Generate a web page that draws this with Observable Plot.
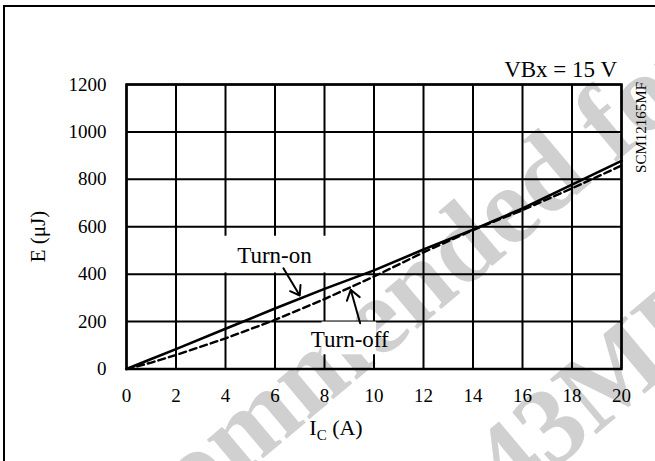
<!DOCTYPE html>
<html>
<head>
<meta charset="utf-8">
<script src="https://cdn.jsdelivr.net/npm/d3@7"></script>
<script src="https://cdn.jsdelivr.net/npm/@observablehq/plot@0.6"></script>
<style>
  html, body { margin: 0; padding: 0; background: white; }
  #wrap { position: relative; width: 655px; height: 461px; overflow: hidden; }
  #bg { position: absolute; left: 0; top: 0; }
  #chart { position: absolute; left: 0; top: 0; }
  #wrap svg, #wrap svg text { font-family: "Liberation Serif", "Times New Roman", serif !important; }
</style>
</head>
<body>
<div id="wrap"><svg id="bg" width="655" height="461"></svg><div id="chart"></div></div>
<script>
// ---- data ----
const xTicks = [0, 2, 4, 6, 8, 10, 12, 14, 16, 18, 20];
const yTicks = [0, 200, 400, 600, 800, 1000, 1200];
const currentA = [0, 1, 2, 4, 6, 8, 10, 12, 14, 16, 18, 20];
const turnOnUJ = [0, 42, 84, 170, 255, 338, 416, 504, 588, 677, 778, 878];
const turnOffUJ = [0, 27, 59, 129, 207, 295, 390, 492, 586, 670, 762, 858];

const labelNames = ["Turn-on", "Turn-off"];
const labelX = [5.98, 9.02];
const labelY = [479, 126];
const boxX1 = [3.9, 7.9];
const boxX2 = [8.1, 10.1];
const boxY1 = [405, 60];
const boxY2 = [560, 198];
const arrowX1 = [6.34, 9.44];
const arrowY1 = [425, 193];
const arrowX2 = [7.0, 9.06];
const arrowY2 = [310, 334];

const conditionText = "VBx = 15 V";
const figureId = "SCM12165MF";
const yLabel = "E (μJ)";
const watermark1 = "Not Recommended for New Designs";
const watermark2 = "SCM1243MF";

// ---- tables ----
const onData = currentA.map((x, i) => ({x, y: turnOnUJ[i]}));
const offData = currentA.map((x, i) => ({x, y: turnOffUJ[i]}));
const labels = labelNames.map((t, i) => ({t, x: labelX[i], y: labelY[i]}));
const boxes = labelNames.map((t, i) => ({x1: boxX1[i], x2: boxX2[i], y1: boxY1[i], y2: boxY2[i]}));
const arrows = labelNames.map((t, i) => ({x1: arrowX1[i], y1: arrowY1[i], x2: arrowX2[i], y2: arrowY2[i]}));

const serif = "Liberation Serif, Times New Roman, serif";

// background: watermark + page border
const bg = d3.select("#bg");
bg.append("text")
  .attr("transform", "translate(-93,757) rotate(-40)")
  .attr("font-weight", "bold")
  .attr("font-size", 110).attr("fill", "#d0d0d0")
  .text(watermark1);
bg.append("text")
  .attr("transform", "translate(239,734) rotate(-40)")
  .attr("font-weight", "bold")
  .attr("font-size", 110).attr("fill", "#d0d0d0")
  .text(watermark2);
bg.append("line").attr("x1", 4).attr("x2", 4).attr("y1", 5).attr("y2", 461).attr("stroke", "black").attr("stroke-width", 2);
bg.append("line").attr("x1", 3).attr("x2", 655).attr("y1", 6).attr("y2", 6).attr("stroke", "black").attr("stroke-width", 2);

const chart = Plot.plot({
  width: 655,
  height: 461,
  marginLeft: 126,
  marginRight: 34,
  marginTop: 84,
  marginBottom: 92.5,
  style: {background: "transparent", fontFamily: serif, fontSize: "19px", color: "black", overflow: "visible"},
  x: {domain: [0, 20], ticks: xTicks, tickSize: 0, tickPadding: 19, tickFormat: d => String(d), label: null},
  y: {domain: [0, 1200], ticks: yTicks, tickSize: 0, tickPadding: 20, tickFormat: d => String(d), label: null},
  marks: [
    Plot.ruleX(xTicks, {stroke: "black", strokeWidth: 2}),
    Plot.ruleY(yTicks, {stroke: "black", strokeWidth: 2}),
    Plot.rect(boxes, {x1: "x1", x2: "x2", y1: "y1", y2: "y2", fill: "white"}),
    Plot.frame({stroke: "black", strokeWidth: 2.5}),
    Plot.line(offData, {x: "x", y: "y", stroke: "black", strokeWidth: 2.4, strokeDasharray: "7,4"}),
    Plot.line(onData, {x: "x", y: "y", stroke: "black", strokeWidth: 2.6}),
    Plot.arrow(arrows, {x1: "x1", y1: "y1", x2: "x2", y2: "y2", stroke: "black", strokeWidth: 2, headLength: 12, headAngle: 70}),
    Plot.text(labels, {x: "x", y: "y", text: "t", fontSize: 23, lineAnchor: "middle", fill: "black"})
  ]
});
document.getElementById("chart").appendChild(chart);

const svg = d3.select(chart);
svg.append("text")
  .attr("x", 617).attr("y", 77)
  .attr("text-anchor", "end").attr("font-size", 23)
  .attr("fill", "black").text(conditionText);
svg.append("text")
  .attr("transform", "translate(645.5,82) rotate(-90)")
  .attr("text-anchor", "end").attr("font-size", 15)
  .attr("fill", "black").text(figureId);
svg.append("text")
  .attr("transform", "translate(45,236.5) rotate(-90)")
  .attr("text-anchor", "middle").attr("font-size", 21)
  .attr("fill", "black").text(yLabel);
const xl = svg.append("text")
  .attr("x", 336).attr("y", 435)
  .attr("text-anchor", "middle").attr("font-size", 22)
  .attr("fill", "black");
xl.append("tspan").text("I");
xl.append("tspan").attr("font-size", 15).attr("dy", 5).text("C");
xl.append("tspan").attr("dy", -5).text(" (A)");
</script>
</body>
</html>
